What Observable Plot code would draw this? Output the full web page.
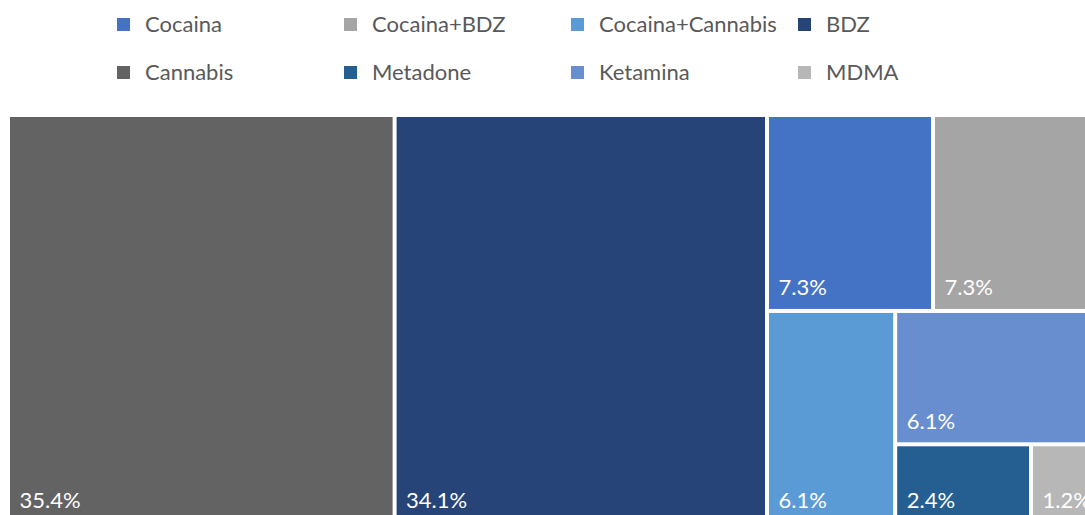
<!DOCTYPE html>
<html>
<head>
<meta charset="utf-8">
<script src="https://cdn.jsdelivr.net/npm/d3@7"></script>
<script src="https://cdn.jsdelivr.net/npm/@observablehq/plot@0.6"></script>
<style>
  html, body { margin: 0; padding: 0; overflow: hidden; background: #fff; width: 1085px; height: 515px; }
  #legend { position: relative; height: 117px; font-family: Lato, "Open Sans", sans-serif; font-size: 22px; color: #595959; }
  .item { position: absolute; display: flex; align-items: center; white-space: nowrap; height: 26px; line-height: 26px; }
  .sw { width: 13px; height: 13px; margin-right: 15px; flex: none; }
  #chart svg { display: block; }
</style>
</head>
<body>
<div id="legend"></div>
<div id="chart"></div>
<script>
// Substances and their share of cases (%), in legend order
const categories = ["Cocaina", "Cocaina+BDZ", "Cocaina+Cannabis", "BDZ", "Cannabis", "Metadone", "Ketamina", "MDMA"];
const shares = [7.3, 7.3, 6.1, 34.1, 35.4, 2.4, 6.1, 1.2];
const colors = ["#4472C4", "#A5A5A5", "#5B9BD5", "#264478", "#636363", "#255E91", "#698ED0", "#B7B7B7"];

// Legend: two rows of four entries
const legend = document.getElementById("legend");
categories.forEach((name, i) => {
  const col = i % 4, row = Math.floor(i / 4);
  const item = document.createElement("div");
  item.className = "item";
  item.style.left = (117 + col * 227) + "px";
  item.style.top = (11 + row * 48) + "px";
  const sw = document.createElement("span");
  sw.className = "sw";
  sw.style.background = colors[i];
  const label = document.createElement("span");
  label.textContent = name;
  item.append(sw, label);
  legend.append(item);
});

// Squarified treemap layout, largest tiles first; the frame runs past the
// right and bottom edges of the page, so the outer tiles are cropped
const W = 1087, H = 404;
const root = d3.hierarchy({children: categories.map((name, i) => ({name, value: shares[i]}))})
  .sum(d => d.value ?? 0)
  .sort((a, b) => b.value - a.value);
d3.treemap().tile(d3.treemapSquarify.ratio(1)).size([W, H]).paddingInner(4)(root);
const tiles = root.leaves().map(d => ({
  name: d.data.name, value: d.data.value,
  x1: d.x0, x2: d.x1, y1: d.y0, y2: d.y1
}));

const chart = Plot.plot({
  width: 1085,
  height: 398,
  margin: 0,
  x: {domain: [0, W], range: [10, 10 + W], axis: null},
  y: {domain: [0, H], range: [0, H], axis: null},
  color: {domain: categories, range: colors},
  style: {overflow: "hidden", fontFamily: "Lato, 'Open Sans', sans-serif", background: "#fff"},
  marks: [
    Plot.rect(tiles, {x1: "x1", x2: "x2", y1: "y1", y2: "y2", fill: "name"}),
    Plot.text(tiles, {
      x: "x1", y: "y2",
      text: d => d.value.toFixed(1) + "%",
      dx: 9, dy: -14,
      textAnchor: "start", lineAnchor: "bottom",
      fill: "white", fontSize: 22
    })
  ]
});
document.getElementById("chart").append(chart);
</script>
</body>
</html>
